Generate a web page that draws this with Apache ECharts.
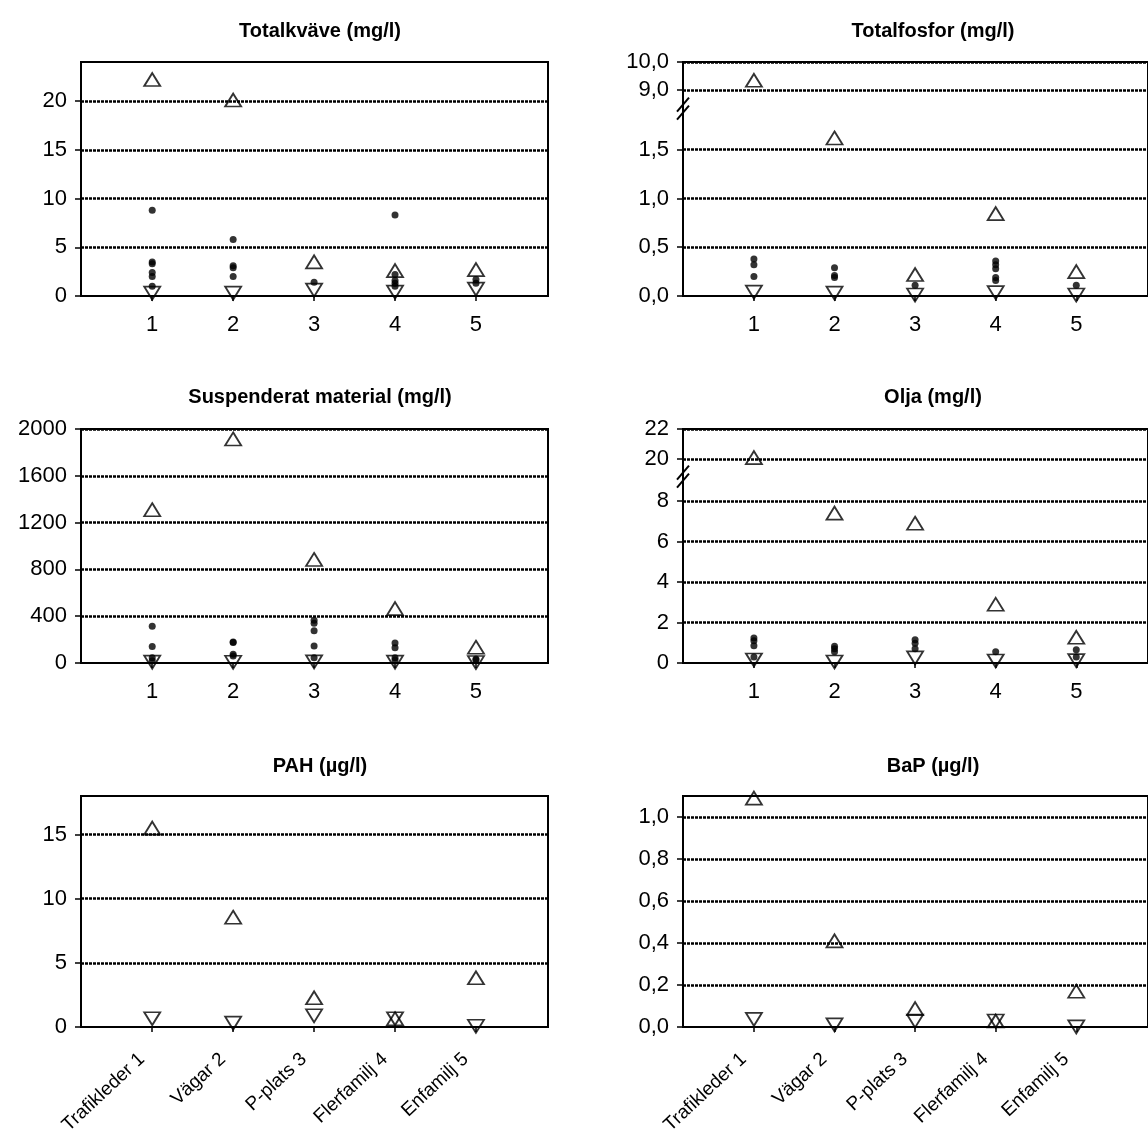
<!DOCTYPE html>
<html>
<head>
<meta charset="utf-8">
<script src="https://cdn.jsdelivr.net/npm/echarts@6/dist/echarts.min.js"></script>
<style>
  html, body { margin: 0; padding: 0; background: #fff; }
  #chart { width: 1148px; height: 1137px; }
</style>
</head>
<body>
<div id="chart"></div>
<script>
// Sampling sites (x positions 1..5)
const SITE_NUMBERS = [1, 2, 3, 4, 5];
const SITE_NAMES = ['Trafikleder 1', 'Vägar 2', 'P-plats 3', 'Flerfamilj 4', 'Enfamilj 5'];

// Totalkväve (mg/l)
const N_MAX = [22.2, 20.1, 3.5, 2.6, 2.7];
const N_MIN = [0.3, 0.3, 0.6, 0.4, 0.7];
const N_SAMPLES = [[8.8, 3.5, 3.3, 2.4, 2.0, 1.0], [5.8, 3.1, 2.9, 2.0], [1.4], [8.3, 2.2, 1.6, 1.3, 1.0], [1.7, 1.3]];
const N_TICKS = [0, 5, 10, 15, 20];

// Totalfosfor (mg/l) - broken axis between 1,5 and 9,0
const P_MAX = [9.35, 1.62, 0.22, 0.845, 0.25];
const P_MIN = [0.04, 0.03, 0.01, 0.035, 0.01];
const P_SAMPLES = [[0.38, 0.32, 0.20], [0.29, 0.21, 0.19], [0.11], [0.36, 0.32, 0.28, 0.19, 0.16], [0.11]];
const P_TICKS = [0, 0.5, 1.0, 1.5, 9.0, 10.0];

// Suspenderat material (mg/l)
const S_MAX = [1310, 1915, 885, 465, 135];
const S_MIN = [8, 6, 10, 8, 4];
const S_SAMPLES = [[315, 140, 45, 20], [180, 175, 75, 60], [365, 340, 275, 145, 45], [170, 130, 45, 25], [35, 25]];
const S_TICKS = [0, 400, 800, 1200, 1600, 2000];

// Olja (mg/l) - broken axis between 8 and 20
const O_MAX = [20.1, 7.4, 6.9, 2.9, 1.27];
const O_MIN = [0.15, 0.05, 0.25, 0.1, 0.12];
const O_SAMPLES = [[1.24, 1.1, 0.85, 0.3], [0.83, 0.7, 0.55], [1.15, 0.98, 0.7], [0.55], [0.65, 0.3]];
const O_TICKS = [0, 2, 4, 6, 8, 20, 22];

// PAH (µg/l)
const PAH_MAX = [15.5, 8.55, 2.27, 0.64, 3.83];
const PAH_MIN = [0.64, 0.3, 0.87, 0.64, 0.05];
const PAH_TICKS = [0, 5, 10, 15];

// BaP (µg/l)
const BAP_MAX = [1.09, 0.41, 0.087, 0.028, 0.17];
const BAP_MIN = [0.036, 0.01, 0.028, 0.028, 0.0];
const BAP_TICKS = [0, 0.2, 0.4, 0.6, 0.8, 1.0];

// ---- layout & style ----
const FONT = '"Liberation Sans", Arial, Helvetica, sans-serif';
const X_MIN = 0.12, X_MAX = 5.89;
const COL_LEFT = [81, 683];
const GRID_W = 467;
const ROW_TOP = [62, 429, 796];
const GRID_H = 234;
const TITLE_X = [315, 928];
const TITLE_TOP = [16, 382, 751];

// Piecewise mapping for a broken value axis: values above `from` are
// compressed and placed starting at `at` on the axis.
function brokenScale(below, from, at, factor) {
  return v => (v <= below ? v : at + (v - from) * factor);
}
const identity = v => v;

const PANELS = [
  { title: 'Totalkväve (mg/l)', max: N_MAX, min: N_MIN, samples: N_SAMPLES, ticks: N_TICKS, top: 24, dec: 0, tf: identity },
  { title: 'Totalfosfor (mg/l)', max: P_MAX, min: P_MIN, samples: P_SAMPLES, ticks: P_TICKS, top: 10, dec: 1,
    tf: brokenScale(2, 9, 2.11, 0.2887), breakAt: 1.92 },
  { title: 'Suspenderat material (mg/l)', max: S_MAX, min: S_MIN, samples: S_SAMPLES, ticks: S_TICKS, top: 2000, dec: 0, tf: identity },
  { title: 'Olja (mg/l)', max: O_MAX, min: O_MIN, samples: O_SAMPLES, ticks: O_TICKS, top: 22, dec: 0,
    tf: brokenScale(9, 20, 10.06, 0.745), breakAt: 9.2 },
  { title: 'PAH (µg/l)', max: PAH_MAX, min: PAH_MIN, samples: null, ticks: PAH_TICKS, top: 18, dec: 0, tf: identity, names: true },
  { title: 'BaP (µg/l)', max: BAP_MAX, min: BAP_MIN, samples: null, ticks: BAP_TICKS, top: 1.1, dec: 1, tf: identity, names: true }
];

const fmt = (v, dec) => (dec ? v.toFixed(dec).replace('.', ',') : String(v));
const BLACK = '#000';

const grids = [], xAxes = [], yAxes = [], series = [], titles = [];

PANELS.forEach((p, i) => {
  const col = i % 2, row = Math.floor(i / 2);
  grids.push({
    left: COL_LEFT[col], top: ROW_TOP[row], width: GRID_W, height: GRID_H,
    show: true, borderColor: BLACK, borderWidth: 2, backgroundColor: 'transparent'
  });
  titles.push({
    text: p.title, left: TITLE_X[col], top: TITLE_TOP[row], textAlign: 'center',
    textStyle: { fontFamily: FONT, fontSize: 20, fontWeight: 'bold', color: BLACK }
  });

  xAxes.push({
    gridIndex: i, type: 'value', min: X_MIN, max: X_MAX,
    axisLine: { show: true, onZero: false, lineStyle: { color: BLACK, width: 2 } },
    axisTick: { show: true, length: 5, customValues: SITE_NUMBERS, lineStyle: { color: BLACK, width: 1.5 } },
    axisLabel: {
      customValues: SITE_NUMBERS,
      formatter: v => (p.names ? SITE_NAMES[v - 1] : String(v)),
      rotate: p.names ? 43 : 0,
      margin: p.names ? 20 : 18,
      padding: p.names ? [0, 14, 0, 0] : 0,
      color: BLACK, fontFamily: FONT, fontSize: p.names ? 19 : 22
    },
    splitLine: { show: false }
  });

  const tickPos = p.ticks.map(p.tf);
  yAxes.push({
    gridIndex: i, type: 'value', min: 0, max: p.tf(p.top),
    axisLine: { show: true, onZero: false, lineStyle: { color: BLACK, width: 2 } },
    axisTick: { show: true, length: 6, customValues: tickPos, lineStyle: { color: BLACK, width: 1.5 } },
    axisLabel: {
      customValues: tickPos, margin: 14,
      formatter: val => {
        const k = tickPos.findIndex(t => Math.abs(t - val) < 1e-6);
        return k < 0 ? '' : fmt(p.ticks[k], p.dec);
      },
      color: BLACK, fontFamily: FONT, fontSize: 22
    },
    splitLine: { show: true, showMinLine: false, lineStyle: { color: BLACK, width: 2.5, type: [3, 1] } }
  });

  if (p.samples) {
    const pts = [];
    p.samples.forEach((vals, k) => vals.forEach(v => pts.push([SITE_NUMBERS[k], p.tf(v)])));
    series.push({
      type: 'scatter', xAxisIndex: i, yAxisIndex: i, data: pts,
      symbol: 'circle', symbolSize: 7, itemStyle: { color: BLACK }, silent: true, z: 3
    });
  }
  const tri = { color: 'transparent', borderColor: BLACK, borderWidth: 1.8 };
  series.push({
    type: 'scatter', xAxisIndex: i, yAxisIndex: i,
    data: p.max.map((v, k) => [SITE_NUMBERS[k], p.tf(v)]),
    symbol: 'triangle', symbolSize: [16, 13], itemStyle: tri, silent: true, z: 4
  });
  series.push({
    type: 'scatter', xAxisIndex: i, yAxisIndex: i,
    data: p.min.map((v, k) => [SITE_NUMBERS[k], p.tf(v)]),
    symbol: 'triangle', symbolRotate: 180, symbolSize: [16, 13], itemStyle: tri, silent: true, z: 4
  });

  // "//" break marks across the value axis
  if (p.breakAt !== undefined) {
    series.push({
      type: 'custom', xAxisIndex: i, yAxisIndex: i, data: [[X_MIN, p.breakAt]], silent: true, z: 6,
      renderItem: (params, api) => {
        const c = api.coord([api.value(0), api.value(1)]);
        return {
          type: 'group',
          children: [-4, 4].map(dy => ({
            type: 'line',
            shape: { x1: c[0] - 6, y1: c[1] + dy + 7, x2: c[0] + 6, y2: c[1] + dy - 7 },
            style: { stroke: BLACK, lineWidth: 2 }
          }))
        };
      }
    });
  }
});

const chart = echarts.init(document.getElementById('chart'), null, { renderer: 'canvas' });
chart.setOption({
  animation: false,
  backgroundColor: '#fff',
  title: titles,
  grid: grids,
  xAxis: xAxes,
  yAxis: yAxes,
  series: series
});
</script>
</body>
</html>
